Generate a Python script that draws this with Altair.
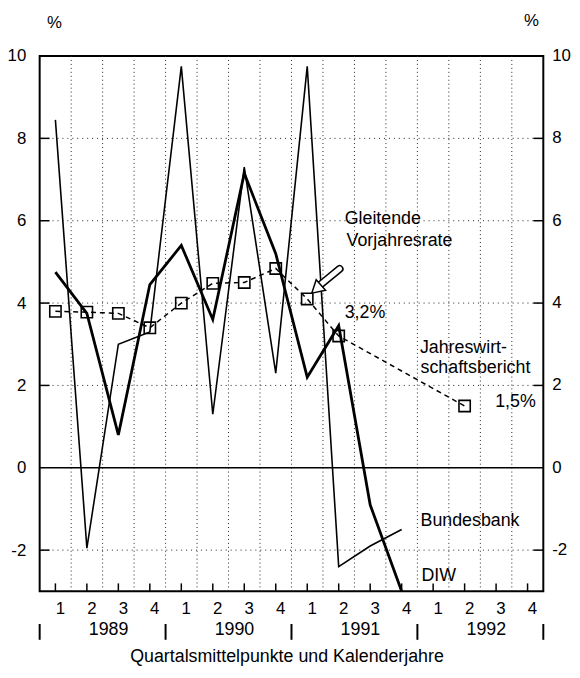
import altair as alt
import pandas as pd

FONT = "Liberation Sans"

# quarter index 0..15 = 1989 Q1 ... 1992 Q4
quarter_labels = ["1", "2", "3", "4"] * 4
years = ["1989", "1990", "1991", "1992"]
year_centers = [1.5, 5.5, 9.5, 13.5]
year_bounds = [-0.5, 3.5, 7.5, 11.5, 15.5]

thin_rate = [8.45, -1.95, 3.0, 3.3, 9.75, 1.3, 7.3, 2.3, 9.75]
bundesbank = [-2.4, -1.9, -1.5]
thick_rate = [4.75, 3.75, 0.8, 4.45, 5.4, 3.6, 7.15, 5.2, 2.2]
diw = [3.45, -0.9, -3.0]
moving_rate = [3.8, 3.78, 3.75, 3.4, 4.0, 4.48, 4.5, 4.84, 4.1, 3.2]
jwb_q = [13]
jwb = [1.5]

y_ticks = [-2, 0, 2, 4, 6, 8, 10]
y_tick_labels = ["-2", "0", "2", "4", "6", "8", "10"]
grid_y = [-2, 2, 4, 6, 8]
grid_q = [i + 0.5 for i in range(15)]

ann_text = ["Gleitende", "Vorjahresrate", "3,2%", "Jahreswirt-", "schaftsbericht",
            "1,5%", "Bundesbank", "DIW"]
ann_q = [9.19, 9.25, 9.19, 11.58, 11.6, 13.97, 11.6, 11.63]
ann_v = [6.03, 5.5, 3.75, 2.91, 2.43, 1.59, -1.3, -2.62]

arrow_q = [9.03, 8.36]
arrow_v = [4.83, 4.41]
arrow_head_q = [8.29]
arrow_head_v = [4.34]

W, H = 509, 541

def X(field="q"):
    return alt.X(f"{field}:Q", scale=alt.Scale(domain=[-0.5, 15.5], nice=False, zero=False), axis=None)

def Y(field="v"):
    return alt.Y(f"{field}:Q", scale=alt.Scale(domain=[-3, 10], nice=False, zero=False),
                 axis=alt.Axis(values=y_ticks, ticks=False, domain=False, grid=False,
                               labelPadding=14, labelFontSize=17, labelFont=FONT,
                               labelColor="black", title=None, labelOverlap=False,
                               labelExpr="toString(datum.value)"))

thin_df = pd.DataFrame({"q": list(range(12)), "v": thin_rate + bundesbank})
thick_df = pd.DataFrame({"q": list(range(12)), "v": thick_rate + diw})
mov_df = pd.DataFrame({"q": list(range(10)) + jwb_q, "v": moving_rate + jwb})
gy_df = pd.DataFrame({"v": grid_y})
gq_df = pd.DataFrame({"q": grid_q})
zero_df = pd.DataFrame({"v": [0]})
qt_df = pd.DataFrame({"q": list(range(16)), "t": quarter_labels})
yr_df = pd.DataFrame({"q": year_centers, "t": years})
yb_df = pd.DataFrame({"q": year_bounds})
yt_df = pd.DataFrame({"v": y_ticks, "t": y_tick_labels})
ann_df = pd.DataFrame({"q": ann_q, "v": ann_v, "t": ann_text})
arr_df = pd.DataFrame({"q": arrow_q, "v": arrow_v})
head_df = pd.DataFrame({"q": arrow_head_q, "v": arrow_head_v})
title_df = pd.DataFrame({"t": ["Quartalsmittelpunkte und Kalenderjahre"]})
pct_df = pd.DataFrame({"t": ["%"]})

grid_h = alt.Chart(gy_df).mark_rule(color="#222", strokeWidth=1, strokeDash=[1, 4]).encode(y=Y())
grid_v = alt.Chart(gq_df).mark_rule(color="#222", strokeWidth=1, strokeDash=[1, 3]).encode(x=X())
zero = alt.Chart(zero_df).mark_rule(color="black", strokeWidth=1.5).encode(y=Y())
lt = alt.Chart(gy_df).mark_rule(color="black", strokeWidth=1.5).encode(y=Y(), x=alt.value(0), x2=alt.value(10))
rt = alt.Chart(gy_df).mark_rule(color="black", strokeWidth=1.5).encode(y=Y(), x=alt.value(W - 10), x2=alt.value(W))
bt = alt.Chart(qt_df).mark_rule(color="black", strokeWidth=1.5).encode(x=X(), y=alt.value(H - 8), y2=alt.value(H))

thin = alt.Chart(thin_df).mark_line(color="black", strokeWidth=1.6).encode(x=X(), y=Y())
thick = alt.Chart(thick_df).mark_line(color="black", strokeWidth=2.8).encode(x=X(), y=Y())
mov = alt.Chart(mov_df).mark_line(color="black", strokeWidth=1.5, strokeDash=[5, 4]).encode(x=X(), y=Y())
sq = alt.Chart(mov_df).mark_point(shape="square", filled=False, color="black", strokeWidth=1.6,
                                  size=130, opacity=1).encode(x=X(), y=Y())

shaft_o = alt.Chart(arr_df).mark_line(color="black", strokeWidth=8, strokeCap="round").encode(x=X(), y=Y())
shaft_i = alt.Chart(arr_df).mark_line(color="white", strokeWidth=5, strokeCap="round").encode(x=X(), y=Y())
head = alt.Chart(head_df).mark_point(shape="triangle-up", filled=True, fill="white", stroke="black",
                                     strokeWidth=1.5, size=200, angle=228, opacity=1,
                                     fillOpacity=1).encode(x=X(), y=Y())

ann = alt.Chart(ann_df).mark_text(align="left", baseline="middle", fontSize=18, font=FONT,
                                  color="black").encode(x=X(), y=Y(), text="t:N")

rlab = alt.Chart(yt_df).mark_text(align="left", baseline="middle", fontSize=17, font=FONT,
                                  color="black").encode(y=Y(), x=alt.value(W + 9), text="t:N")

qlab = alt.Chart(qt_df).mark_text(align="center", baseline="middle", fontSize=17, font=FONT,
                                  color="black", dx=5).encode(x=X(), y=alt.value(559), text="t:N")
ylab = alt.Chart(yr_df).mark_text(align="center", baseline="middle", fontSize=18, font=FONT,
                                  color="black", dx=6).encode(x=X(), y=alt.value(580), text="t:N")
ysep = alt.Chart(yb_df).mark_rule(color="black", strokeWidth=2).encode(x=X(), y=alt.value(574), y2=alt.value(590))

title = alt.Chart(title_df).mark_text(align="center", baseline="middle", fontSize=18, font=FONT,
                                      color="black").encode(x=alt.value(250), y=alt.value(607), text="t:N")
pct_l = alt.Chart(pct_df).mark_text(align="center", baseline="middle", fontSize=17, font=FONT,
                                    color="black").encode(x=alt.value(15), y=alt.value(-33), text="t:N")
pct_r = alt.Chart(pct_df).mark_text(align="center", baseline="middle", fontSize=17, font=FONT,
                                    color="black").encode(x=alt.value(497), y=alt.value(-35), text="t:N")

chart = alt.layer(
    grid_h, grid_v, zero, lt, rt, bt,
    mov, thin, thick, sq,
    shaft_o, shaft_i, head,
    ann, rlab, qlab, ylab, ysep, title, pct_l, pct_r
).properties(
    width=W, height=H,
    padding={"left": 32, "top": 45, "right": 29, "bottom": 76},
    autosize=alt.AutoSizeParams(type="none"),
    background="white",
).configure_view(stroke="black", strokeWidth=2)

chart.save("out.html", embed_options={"renderer": "svg", "actions": False})
